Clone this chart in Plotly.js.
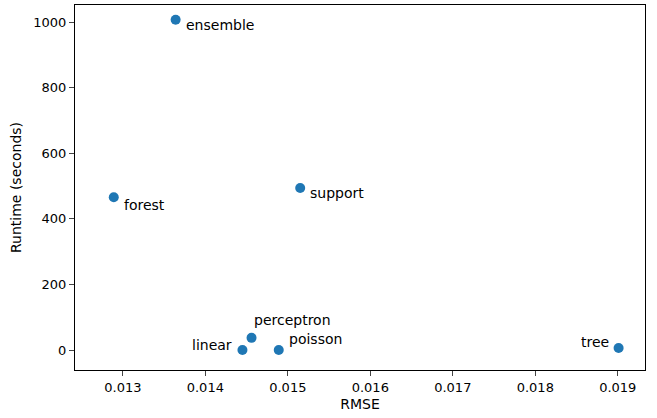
<!DOCTYPE html>
<html>
<head>
<script src="https://cdn.plot.ly/plotly-3.0.1.min.js"></script>
<style>body{margin:0;background:#fff}</style>
</head>
<body>
<div id="myDiv" style="width:657px;height:418px"></div>
<script>
var models = ['ensemble', 'forest', 'support', 'perceptron', 'linear', 'poisson', 'tree'];
var rmse = [0.01364, 0.01289, 0.01515, 0.01456, 0.01445, 0.01489, 0.01901];
var runtime = [1007, 466, 494, 37, 0, 0, 6];

// label placement (anchor, pixel shifts) per point
var anchors = ['left', 'left', 'left', 'left', 'right', 'left', 'right'];
var xshifts = [8, 8, 8, 0, -8, 8, -8];
var yshifts = [-5, -8, -5, 18, 5, 11, 6];

var trace = {
    x: rmse,
    y: runtime,
    mode: 'markers',
    type: 'scatter',
    marker: {color: '#1f77b4', size: 10},
    cliponaxis: false
};

var annotations = models.map(function(m, i) {
    return {
        x: rmse[i], y: runtime[i], text: m, showarrow: false,
        xanchor: anchors[i], yanchor: 'middle',
        xshift: xshifts[i], yshift: yshifts[i],
        font: {family: 'DejaVu Sans', size: 14, color: '#000'}
    };
});

var axisStyle = {
    showgrid: false, zeroline: false, showline: true, mirror: true,
    linecolor: '#000', linewidth: 1, ticks: 'outside', ticklen: 5,
    tickfont: {family: 'DejaVu Sans', size: 13, color: '#000'}
};

var layout = {
    margin: {l: 75, r: 12, t: 5, b: 48},
    showlegend: false,
    paper_bgcolor: '#fff',
    plot_bgcolor: '#fff',
    annotations: annotations,
    xaxis: Object.assign({}, axisStyle, {
        range: [0.01242, 0.01933], dtick: 0.001, tickformat: '.3f',
        title: {text: 'RMSE', font: {family: 'DejaVu Sans', size: 14, color: '#000'}, standoff: 5}
    }),
    yaxis: Object.assign({}, axisStyle, {
        range: [-61, 1052], dtick: 200,
        title: {text: 'Runtime (seconds)', font: {family: 'DejaVu Sans', size: 14, color: '#000'}, standoff: 8}
    })
};

Plotly.newPlot('myDiv', [trace], layout, {displayModeBar: false});
</script>
</body>
</html>
